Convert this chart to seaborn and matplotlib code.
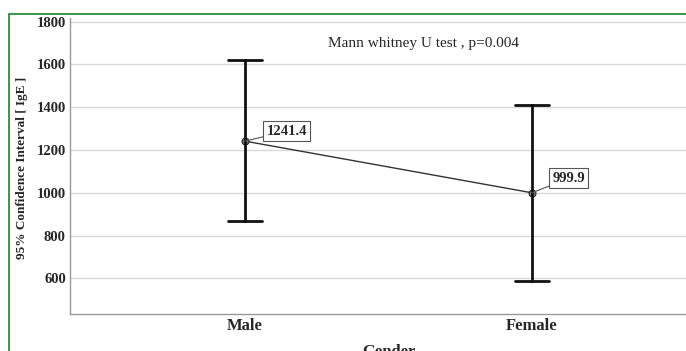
import matplotlib
matplotlib.use("Agg")
import matplotlib.pyplot as plt
import matplotlib.patches as mpatches
import seaborn as sns
import pandas as pd

# Data
genders = ["Male", "Female"]
means = [1241.4, 999.9]
ci_lower = [866, 587]
ci_upper = [1621, 1412]
mean_labels = ["1241.4", "999.9"]
yticks = [600, 800, 1000, 1200, 1400, 1600, 1800]
annotation = "Mann whitney U test , p=0.004"

rows = []
for g, lo, m, hi in zip(genders, ci_lower, means, ci_upper):
    for v in (lo, m, hi):
        rows.append({"Gender": g, "IgE": v})
df = pd.DataFrame(rows)

sns.set_theme(style="white")
plt.rcParams["font.family"] = ["Liberation Serif", "DejaVu Serif"]

fig = plt.figure(figsize=(6.86, 3.51), dpi=100)
ax = fig.add_axes([70/686, (351-314.3)/351, 616/686, (314.3-18)/351])

sns.pointplot(data=df, x="Gender", y="IgE", order=genders,
              estimator="median", errorbar=("pi", 100),
              capsize=0.115, color="#333333", linewidth=1.0,
              markers="o", markersize=5,
              err_kws={"linewidth": 2.0, "color": "#111111"}, ax=ax)

for line in ax.lines:
    if line.get_marker() == "o":
        line.set_markerfacecolor("#777777")
        line.set_markeredgecolor("#222222")

ax.set_xlim(-175/287, 441/287)
ax.set_ylim(432, 1817)
ax.set_yticks(yticks)
ax.set_yticklabels([str(t) for t in yticks], fontsize=10.5, fontweight="bold")
ax.set_xticks(range(len(genders)))
ax.set_xticklabels(genders, fontsize=12, fontweight="bold")
ax.tick_params(axis="y", length=0, pad=3)
ax.tick_params(axis="x", length=0, pad=3)
ax.yaxis.grid(True, color="#d9d9d9", linewidth=1.0)
ax.set_axisbelow(True)
for s in ["top", "right"]:
    ax.spines[s].set_visible(False)
ax.spines["left"].set_color("#999999")
ax.spines["bottom"].set_color("#999999")
ax.spines["left"].set_linewidth(1.0)
ax.spines["bottom"].set_linewidth(1.0)

ax.set_xlabel("")
ax.set_ylabel("")
fig.text(22/686, 1 - 168/351, "95% Confidence Interval [ IgE ]", rotation=90,
         ha="center", va="center", fontsize=9.5, fontweight="bold")
fig.text(389/686, 1 - 352/351, "Gender", ha="center", va="center",
         fontsize=12, fontweight="bold")

offsets = [(30.2, 7.2), (26.6, 10.6)]
for i, (m, lab) in enumerate(zip(means, mean_labels)):
    ax.annotate(lab, xy=(i, m), xytext=offsets[i], textcoords="offset points",
                ha="center", va="center", fontsize=10.5, fontweight="bold",
                bbox=dict(boxstyle="square,pad=0.22", fc="white", ec="#555555", lw=0.8),
                arrowprops=dict(arrowstyle="-", color="#555555", lw=0.8,
                                shrinkA=0, shrinkB=0))

fig.text(423/686, 1 - 44/351, annotation, ha="center", va="center", fontsize=11)

border = mpatches.Rectangle((9/686, -0.2), 1.2, 0.2 + (351-14)/351,
                            transform=fig.transFigure, fill=False,
                            edgecolor="#2e8b3e", linewidth=1.3)
fig.patches.append(border)

fig.savefig("out.png", dpi=100)
